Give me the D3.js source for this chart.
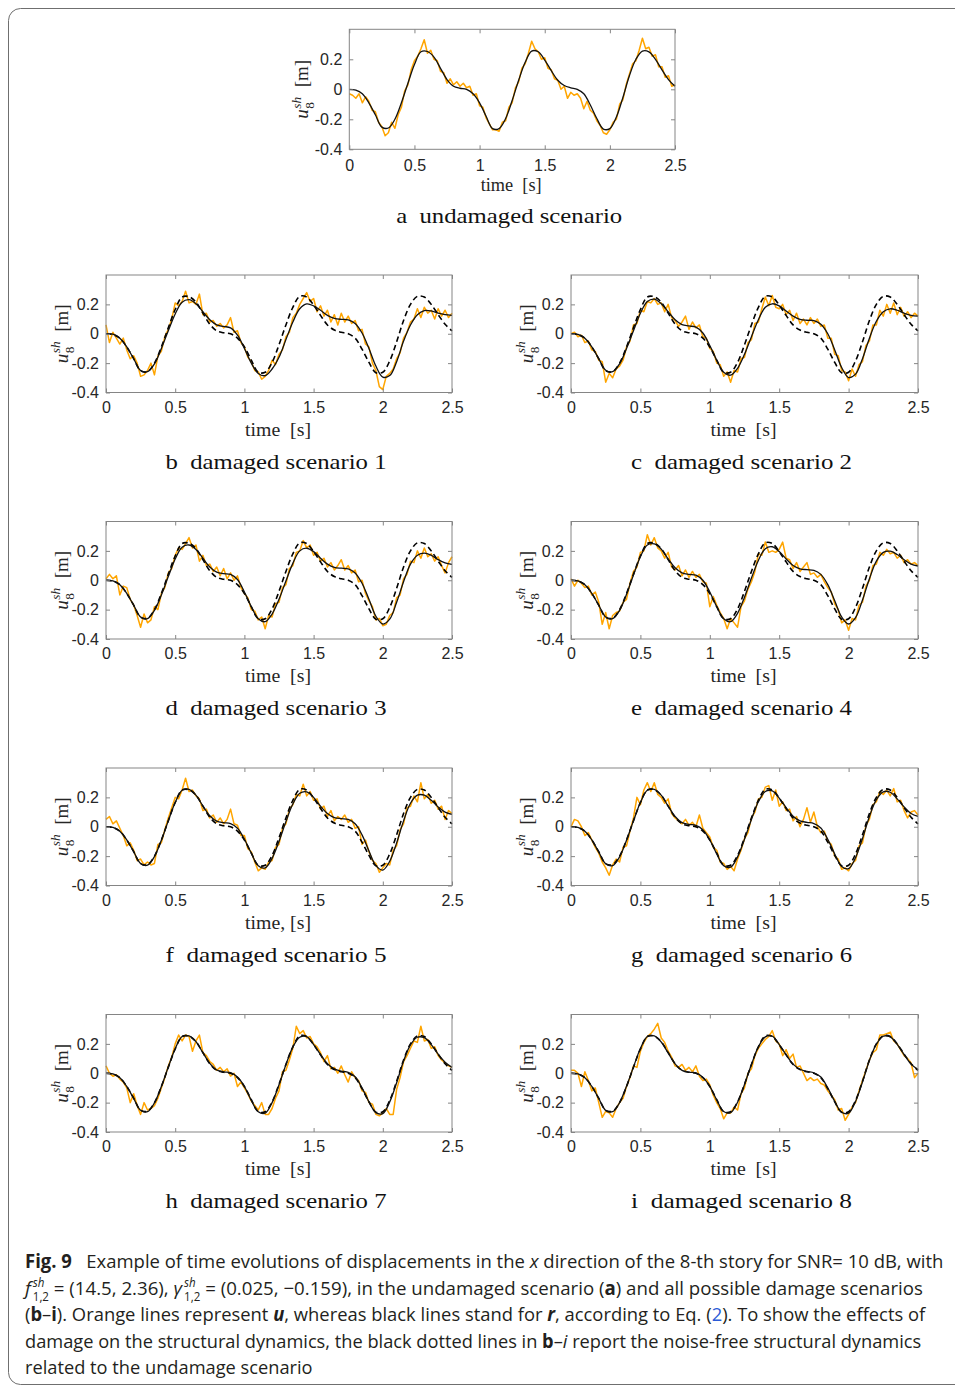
<!DOCTYPE html>
<html>
<head>
<meta charset="utf-8">
<script src="https://cdn.jsdelivr.net/npm/d3@7"></script>
<style>
  body { margin: 0; background: #fff; }
  svg text { white-space: pre; }
</style>
</head>
<body>
<svg id="fig" width="955" height="1388"></svg>
<script>
// sampling steps of the two kinds of series (seconds)
const dtFilt = 0.05;
const dtNoisy = 0.025;

const xTicks = [0, 0.5, 1, 1.5, 2, 2.5];
const xTickLabels = ["0", "0.5", "1", "1.5", "2", "2.5"];
const yTicks = [-0.4, -0.2, 0, 0.2];
const yTickLabels = ["-0.4", "-0.2", "0", "0.2"];

// noise-free undamaged response (black in a, dashed in b-i)
const refUndamaged = [0.000,-0.005,-0.030,-0.090,-0.170,-0.252,-0.258,-0.200,-0.090,0.040,
  0.165,0.250,0.252,0.215,0.140,0.065,0.020,0.007,0.000,-0.030,
  -0.090,-0.180,-0.262,-0.262,-0.195,-0.075,0.060,0.180,0.255,0.250,
  0.195,0.125,0.060,0.025,0.010,0.000,-0.030,-0.105,-0.195,-0.265,
  -0.262,-0.185,-0.055,0.090,0.200,0.255,0.250,0.200,0.130,0.065,
  0.020];

// black lines r, damaged scenarios 1..8
const filtB = [0.000,-0.003,-0.030,-0.090,-0.170,-0.250,-0.258,-0.205,-0.100,0.020,
  0.135,0.215,0.232,0.205,0.150,0.095,0.060,0.050,0.040,-0.010,
  -0.100,-0.200,-0.270,-0.285,-0.240,-0.160,-0.040,0.080,0.170,0.203,
  0.190,0.160,0.125,0.105,0.098,0.095,0.070,0.005,-0.100,-0.220,
  -0.295,-0.285,-0.190,-0.050,0.060,0.130,0.158,0.155,0.140,0.130,
  0.125];
const filtC = [0.000,-0.005,-0.030,-0.090,-0.170,-0.248,-0.258,-0.205,-0.100,0.020,
  0.140,0.220,0.236,0.205,0.150,0.095,0.062,0.053,0.045,0.005,
  -0.080,-0.180,-0.262,-0.282,-0.235,-0.140,-0.020,0.095,0.180,0.204,
  0.190,0.155,0.120,0.098,0.092,0.090,0.065,0.000,-0.110,-0.230,
  -0.298,-0.275,-0.170,-0.030,0.085,0.150,0.170,0.160,0.140,0.125,
  0.120];
const filtD = [0.000,-0.005,-0.030,-0.090,-0.170,-0.250,-0.262,-0.205,-0.100,0.025,
  0.145,0.225,0.240,0.210,0.150,0.090,0.055,0.045,0.040,0.005,
  -0.080,-0.180,-0.262,-0.282,-0.230,-0.130,-0.005,0.115,0.200,0.218,
  0.195,0.150,0.110,0.088,0.082,0.078,0.050,-0.020,-0.130,-0.245,
  -0.298,-0.265,-0.150,-0.010,0.110,0.170,0.185,0.170,0.140,0.118,
  0.108];
const filtE = [0.000,-0.005,-0.030,-0.090,-0.170,-0.250,-0.262,-0.205,-0.095,0.035,
  0.160,0.240,0.248,0.212,0.145,0.085,0.050,0.040,0.035,0.000,
  -0.080,-0.180,-0.262,-0.282,-0.225,-0.115,0.015,0.135,0.215,0.228,
  0.195,0.145,0.100,0.078,0.072,0.068,0.040,-0.030,-0.140,-0.250,
  -0.298,-0.255,-0.135,0.010,0.130,0.190,0.198,0.175,0.140,0.110,
  0.097];
const filtF = [0.000,-0.005,-0.030,-0.090,-0.170,-0.250,-0.262,-0.203,-0.092,0.040,
  0.165,0.248,0.255,0.215,0.142,0.075,0.038,0.028,0.022,-0.010,
  -0.085,-0.180,-0.265,-0.280,-0.215,-0.100,0.035,0.155,0.228,0.238,
  0.200,0.140,0.090,0.062,0.055,0.050,0.020,-0.055,-0.165,-0.265,
  -0.295,-0.235,-0.110,0.040,0.160,0.215,0.215,0.180,0.135,0.100,
  0.085];
const filtG = [0.000,-0.005,-0.030,-0.090,-0.172,-0.252,-0.265,-0.205,-0.092,0.040,
  0.165,0.248,0.255,0.215,0.140,0.070,0.028,0.016,0.010,-0.020,
  -0.090,-0.185,-0.265,-0.275,-0.205,-0.085,0.050,0.170,0.240,0.245,
  0.195,0.130,0.072,0.040,0.030,0.022,-0.008,-0.085,-0.185,-0.270,
  -0.285,-0.210,-0.080,0.070,0.185,0.238,0.235,0.190,0.135,0.090,
  0.070];
const filtH = [0.000,-0.005,-0.030,-0.090,-0.172,-0.252,-0.262,-0.202,-0.090,0.042,
  0.167,0.250,0.255,0.215,0.140,0.067,0.022,0.010,0.004,-0.026,
  -0.090,-0.185,-0.262,-0.272,-0.200,-0.078,0.058,0.178,0.245,0.250,
  0.195,0.128,0.065,0.030,0.015,0.006,-0.024,-0.100,-0.195,-0.268,
  -0.275,-0.195,-0.065,0.083,0.193,0.245,0.242,0.195,0.130,0.075,
  0.040];
const filtI = [0.000,-0.005,-0.030,-0.090,-0.172,-0.253,-0.262,-0.200,-0.088,0.043,
  0.168,0.250,0.255,0.213,0.138,0.064,0.020,0.008,0.002,-0.028,
  -0.090,-0.182,-0.260,-0.268,-0.197,-0.076,0.060,0.180,0.248,0.253,
  0.195,0.126,0.062,0.027,0.012,0.003,-0.026,-0.100,-0.192,-0.265,
  -0.272,-0.192,-0.060,0.087,0.198,0.252,0.248,0.197,0.127,0.062,
  0.025];

// orange lines u (noisy, SNR 10 dB)
const noisyA = [-0.03,-0.04,-0.06,-0.03,-0.09,-0.05,-0.08,-0.14,-0.15,-0.22,
  -0.25,-0.31,-0.29,-0.22,-0.26,-0.17,-0.12,-0.01,0.03,0.13,
  0.19,0.22,0.27,0.33,0.24,0.26,0.20,0.19,0.12,0.11,
  0.04,0.07,0.03,0.05,0.02,0.04,0.01,0.02,-0.04,-0.03,
  -0.11,-0.12,-0.19,-0.23,-0.27,-0.27,-0.28,-0.22,-0.21,-0.12,
  -0.09,0.01,0.05,0.14,0.17,0.24,0.32,0.27,0.25,0.20,
  0.21,0.14,0.13,0.07,0.06,0.00,0.02,-0.06,-0.02,-0.04,
  -0.03,-0.06,-0.13,-0.08,-0.14,-0.16,-0.21,-0.24,-0.29,-0.30,
  -0.27,-0.22,-0.20,-0.10,-0.07,0.03,0.10,0.17,0.19,0.26,
  0.34,0.27,0.28,0.22,0.23,0.15,0.15,0.08,0.09,0.02,
  0.03];
const noisyB = [0.06,-0.06,0.01,-0.03,-0.07,-0.03,-0.11,-0.17,-0.15,-0.20,
  -0.29,-0.28,-0.25,-0.20,-0.28,-0.15,-0.12,-0.02,0.03,0.10,
  0.21,0.19,0.22,0.29,0.21,0.22,0.20,0.27,0.13,0.14,
  0.08,0.09,0.05,0.07,0.04,0.06,0.11,0.01,0.02,-0.06,
  -0.09,-0.16,-0.19,-0.25,-0.26,-0.31,-0.29,-0.25,-0.18,-0.21,
  -0.14,-0.11,-0.02,0.01,0.11,0.14,0.20,0.24,0.28,0.22,
  0.24,0.15,0.19,0.12,0.16,0.08,0.13,0.06,0.14,0.08,
  0.12,0.07,0.09,0.02,0.03,-0.07,-0.09,-0.20,-0.25,-0.36,
  -0.38,-0.29,-0.27,-0.24,-0.17,-0.13,-0.03,0.01,0.08,0.10,
  0.17,0.11,0.18,0.14,0.16,0.10,0.17,0.12,0.16,0.11,
  0.14];
const noisyC = [0.00,0.01,-0.02,-0.01,-0.06,-0.05,-0.11,-0.12,-0.18,-0.19,
  -0.33,-0.27,-0.30,-0.24,-0.22,-0.18,-0.09,-0.05,0.06,0.07,
  0.16,0.15,0.22,0.21,0.24,0.20,0.21,0.15,0.20,0.11,
  0.09,0.05,0.08,0.12,0.03,0.08,0.04,0.06,-0.02,-0.03,
  -0.10,-0.12,-0.20,-0.21,-0.29,-0.26,-0.33,-0.25,-0.26,-0.17,
  -0.16,-0.06,-0.04,0.07,0.08,0.17,0.25,0.19,0.26,0.18,
  0.17,0.20,0.13,0.16,0.09,0.14,0.07,0.10,0.06,0.11,
  0.07,0.10,0.05,0.06,-0.03,-0.03,-0.14,-0.15,-0.25,-0.26,
  -0.32,-0.24,-0.29,-0.21,-0.19,-0.08,-0.05,0.06,0.06,0.16,
  0.12,0.20,0.14,0.21,0.13,0.18,0.12,0.15,0.11,0.14,
  0.12];
const noisyD = [0.01,0.04,0.01,0.03,-0.10,-0.04,-0.05,-0.13,-0.17,-0.24,
  -0.32,-0.23,-0.29,-0.27,-0.18,-0.20,-0.09,-0.05,0.05,0.08,
  0.17,0.22,0.21,0.25,0.29,0.22,0.24,0.13,0.17,0.10,
  0.11,0.06,0.09,0.03,0.08,0.01,0.05,0.00,0.03,-0.05,
  -0.09,-0.12,-0.20,-0.21,-0.27,-0.25,-0.33,-0.24,-0.25,-0.16,
  -0.15,-0.05,-0.03,0.08,0.10,0.19,0.20,0.27,0.22,0.24,
  0.17,0.19,0.13,0.15,0.09,0.12,0.07,0.10,0.14,0.07,
  0.10,0.05,0.07,-0.01,0.00,-0.09,-0.14,-0.18,-0.27,-0.26,
  -0.31,-0.30,-0.24,-0.22,-0.12,-0.10,0.01,0.04,0.13,0.12,
  0.20,0.15,0.22,0.16,0.18,0.13,0.16,0.10,0.05,0.12,
  0.16];
const noisyE = [0.01,-0.04,0.00,-0.02,-0.05,-0.04,-0.10,-0.08,-0.15,-0.30,
  -0.22,-0.33,-0.24,-0.22,-0.21,-0.15,-0.13,-0.02,0.06,0.09,
  0.19,0.20,0.31,0.24,0.29,0.22,0.20,0.15,0.19,0.09,
  0.07,0.10,0.03,0.07,0.02,0.06,0.02,0.04,-0.01,-0.02,
  -0.18,-0.11,-0.17,-0.22,-0.26,-0.33,-0.26,-0.29,-0.32,-0.18,
  -0.14,-0.06,-0.01,0.06,0.18,0.17,0.26,0.19,0.20,0.19,
  0.21,0.26,0.15,0.14,0.08,0.12,0.06,0.09,0.12,0.04,
  0.05,0.02,0.04,-0.01,-0.05,-0.08,-0.16,-0.20,-0.29,-0.27,
  -0.34,-0.26,-0.27,-0.17,-0.15,-0.04,0.00,0.10,0.11,0.19,
  0.17,0.21,0.18,0.19,0.15,0.17,0.12,0.14,0.11,0.12,
  0.10];
const noisyF = [0.05,0.07,0.02,0.04,-0.01,-0.06,-0.13,-0.11,-0.16,-0.23,
  -0.22,-0.26,-0.24,-0.26,-0.25,-0.12,-0.11,-0.02,0.06,0.13,
  0.20,0.19,0.25,0.33,0.24,0.25,0.21,0.19,0.11,0.12,
  0.06,0.08,0.03,0.06,0.02,0.05,0.12,0.02,0.01,-0.06,
  -0.06,-0.15,-0.17,-0.24,-0.30,-0.28,-0.29,-0.24,-0.23,-0.14,
  -0.12,-0.01,0.02,0.12,0.15,0.22,0.21,0.29,0.21,0.24,
  0.18,0.19,0.12,0.14,0.07,0.11,0.04,0.07,0.05,0.08,
  0.03,0.05,-0.01,0.00,-0.12,-0.09,-0.17,-0.23,-0.25,-0.31,
  -0.28,-0.25,-0.26,-0.16,-0.13,-0.02,0.02,0.13,0.14,0.21,
  0.17,0.30,0.19,0.22,0.16,0.18,0.12,0.14,0.05,0.11,
  0.09];
const noisyG = [0.00,0.05,0.04,0.00,-0.06,-0.04,-0.09,-0.14,-0.18,-0.24,
  -0.28,-0.33,-0.26,-0.22,-0.24,-0.14,-0.13,-0.03,0.06,0.20,
  0.15,0.25,0.30,0.24,0.30,0.22,0.20,0.16,0.19,0.09,
  0.06,0.04,0.02,0.05,0.01,0.03,0.00,0.08,-0.01,-0.04,
  -0.07,-0.14,-0.16,-0.24,-0.25,-0.29,-0.27,-0.30,-0.22,-0.16,
  -0.08,-0.04,0.06,0.10,0.19,0.20,0.27,0.28,0.18,0.25,
  0.14,0.17,0.11,0.12,0.04,0.07,0.00,0.05,0.13,0.03,
  0.10,0.00,-0.04,-0.03,-0.10,-0.12,-0.20,-0.22,-0.29,-0.28,
  -0.30,-0.25,-0.23,-0.13,-0.11,0.01,0.05,0.15,0.17,0.24,
  0.22,0.25,0.21,0.26,0.17,0.18,0.11,0.06,0.10,0.11,
  0.08];
const noisyH = [0.05,0.00,-0.02,-0.01,-0.04,-0.06,-0.10,-0.20,-0.14,-0.22,
  -0.28,-0.20,-0.25,-0.24,-0.22,-0.17,-0.10,-0.03,0.05,0.11,
  0.20,0.26,0.22,0.26,0.25,0.15,0.22,0.26,0.14,0.12,
  0.08,0.06,0.02,0.04,0.01,0.03,-0.02,0.00,-0.09,-0.06,
  -0.10,-0.14,-0.19,-0.22,-0.25,-0.20,-0.28,-0.28,-0.24,-0.17,
  -0.12,0.01,0.02,0.09,0.17,0.32,0.27,0.29,0.24,0.25,
  0.20,0.18,0.14,0.08,0.12,0.03,0.04,0.00,0.05,-0.01,
  -0.06,0.01,-0.03,-0.05,-0.12,-0.13,-0.20,-0.21,-0.28,-0.29,
  -0.27,-0.24,-0.28,-0.28,-0.11,-0.03,0.08,0.12,0.17,0.22,
  0.21,0.32,0.22,0.23,0.17,0.18,0.12,0.09,0.07,0.05,
  0.04];
const noisyI = [0.02,0.02,0.00,-0.09,0.01,-0.05,-0.12,-0.10,-0.20,-0.30,
  -0.26,-0.27,-0.30,-0.24,-0.20,-0.17,-0.09,-0.03,0.05,0.04,
  0.15,0.21,0.25,0.27,0.30,0.34,0.24,0.21,0.15,0.11,
  0.05,0.04,0.06,0.02,0.04,0.01,0.05,-0.02,-0.05,-0.04,
  -0.08,-0.15,-0.20,-0.24,-0.31,-0.27,-0.27,-0.23,-0.25,-0.14,
  -0.10,0.00,0.03,0.12,0.17,0.20,0.23,0.25,0.29,0.22,
  0.20,0.12,0.16,0.10,0.13,0.04,0.05,0.00,-0.05,-0.03,
  -0.05,-0.04,-0.07,-0.08,-0.12,-0.15,-0.18,-0.25,-0.24,-0.32,
  -0.28,-0.23,-0.20,-0.12,-0.05,0.02,0.09,0.14,0.16,0.26,
  0.26,0.27,0.28,0.22,0.20,0.16,0.12,0.10,0.07,-0.03,
  0.00];

const panels = [
  { tag: "a", name: "undamaged scenario", xlab: "time  [s]", noisy: noisyA, filt: refUndamaged, ref: null },
  { tag: "b", name: "damaged scenario 1", xlab: "time  [s]", noisy: noisyB, filt: filtB, ref: refUndamaged },
  { tag: "c", name: "damaged scenario 2", xlab: "time  [s]", noisy: noisyC, filt: filtC, ref: refUndamaged },
  { tag: "d", name: "damaged scenario 3", xlab: "time  [s]", noisy: noisyD, filt: filtD, ref: refUndamaged },
  { tag: "e", name: "damaged scenario 4", xlab: "time  [s]", noisy: noisyE, filt: filtE, ref: refUndamaged },
  { tag: "f", name: "damaged scenario 5", xlab: "time, [s]", noisy: noisyF, filt: filtF, ref: refUndamaged },
  { tag: "g", name: "damaged scenario 6", xlab: "time  [s]", noisy: noisyG, filt: filtG, ref: refUndamaged },
  { tag: "h", name: "damaged scenario 7", xlab: "time  [s]", noisy: noisyH, filt: filtH, ref: refUndamaged },
  { tag: "i", name: "damaged scenario 8", xlab: "time  [s]", noisy: noisyI, filt: filtI, ref: refUndamaged }
];

// plot boxes in page pixels
const cols = [{ left: 106, right: 452 }, { left: 571, right: 918 }];
const rows = [{ top: 275, bottom: 392.5 }, { top: 521.5, bottom: 639 }, { top: 768, bottom: 885.5 }, { top: 1014.5, bottom: 1132 }];
const boxes = [{ left: 349.3, right: 675, top: 29.3, bottom: 149.3, ylab: 41, capW: 226, xlabW: 61, tickPad: 10, xlabY: 42, capY: 74 }];
rows.forEach(r => cols.forEach(c => boxes.push({
  left: c.left, right: c.right, top: r.top, bottom: r.bottom,
  ylab: 38, capW: 221, xlabW: 66, tickPad: 9, xlabY: 43, capY: 76
})));

const SERIF = "'Liberation Serif', 'DejaVu Serif', serif";
const SANS = "'Liberation Sans', Arial, sans-serif";
const AXIS_GREY = "#858585";

const svg = d3.select("#fig");

// outer frame of the figure
svg.append("rect")
  .attr("x", 8.5).attr("y", 8.5).attr("width", 980).attr("height", 1376)
  .attr("rx", 12).attr("fill", "none").attr("stroke", "#6f6f6f").attr("stroke-width", 1);

// text with italic/bold runs and stacked super/subscripts
function rich(parent, segs, o) {
  const t = parent.append("text")
    .attr("font-family", o.font).attr("font-size", o.size)
    .attr("fill", o.color).attr("text-anchor", o.anchor || "start");
  let shift = 0, pend = 0;
  const ss = o.size * (o.scriptScale || 0.7);
  segs.forEach(s => {
    if (s.stack) {
      const up = -o.size * (o.supUp || 0.4), dn = o.size * (o.subDn || 0.3);
      const a = t.append("tspan").text(s.stack[0]).attr("font-size", ss)
        .attr("dy", up - shift).attr("dx", pend + (s.gap || 0)).attr("font-style", s.supI ? "italic" : null);
      shift = up;
      const w1 = a.node().getComputedTextLength();
      const b = t.append("tspan").text(s.stack[1]).attr("font-size", ss)
        .attr("dx", -w1).attr("dy", dn - shift).attr("font-style", s.subI ? "italic" : null);
      shift = dn;
      const w2 = b.node().getComputedTextLength();
      pend = Math.max(0, w1 - w2);
    } else {
      const sp = t.append("tspan").text(s.t);
      if (shift) sp.attr("dy", -shift);
      if (pend) sp.attr("dx", pend);
      shift = 0; pend = 0;
      if (s.b) sp.attr("font-weight", "bold");
      if (s.i) sp.attr("font-style", "italic");
      if (s.c) sp.attr("fill", s.c);
    }
  });
  return t;
}

function drawPanel(p, box) {
  const x = d3.scaleLinear().domain([0, 2.5]).range([box.left, box.right]);
  const y = d3.scaleLinear().domain([-0.4, 0.4]).range([box.bottom, box.top]);
  const g = svg.append("g").attr("class", "panel-" + p.tag);

  const lineFilt = d3.line().x((d, i) => x(i * dtFilt)).y(d => y(d)).curve(d3.curveCatmullRom.alpha(0.5));
  const lineNoisy = d3.line().x((d, i) => x(i * dtNoisy)).y(d => y(d));

  g.append("path").datum(p.noisy).attr("d", lineNoisy)
    .attr("fill", "none").attr("stroke", "#FFA500").attr("stroke-width", 1.5).attr("stroke-linejoin", "round");
  if (p.ref) {
    g.append("path").datum(p.ref).attr("d", lineFilt)
      .attr("fill", "none").attr("stroke", "#000").attr("stroke-width", 1.6).attr("stroke-dasharray", "5.5,3.5");
  }
  g.append("path").datum(p.filt).attr("d", lineFilt)
    .attr("fill", "none").attr("stroke", "#111").attr("stroke-width", 1.3);

  // box
  g.append("rect").attr("x", box.left).attr("y", box.top)
    .attr("width", box.right - box.left).attr("height", box.bottom - box.top)
    .attr("fill", "none").attr("stroke", AXIS_GREY).attr("stroke-width", 1);

  const style = sel => {
    sel.select(".domain").remove();
    sel.selectAll(".tick line").attr("stroke", AXIS_GREY);
    sel.selectAll(".tick text").attr("fill", "#262626").attr("font-family", SANS).attr("font-size", 16);
  };
  g.append("g").attr("transform", `translate(0,${box.bottom})`)
    .call(d3.axisBottom(x).tickValues(xTicks).tickFormat((d, i) => xTickLabels[i])
      .tickSizeInner(-4).tickSizeOuter(0).tickPadding(box.tickPad)).call(style);
  g.append("g").attr("transform", `translate(0,${box.top})`)
    .call(d3.axisTop(x).tickValues(xTicks).tickFormat("").tickSizeInner(-4).tickSizeOuter(0)).call(style);
  g.append("g").attr("transform", `translate(${box.left},0)`)
    .call(d3.axisLeft(y).tickValues(yTicks).tickFormat((d, i) => yTickLabels[i])
      .tickSizeInner(-4).tickSizeOuter(0).tickPadding(7)).call(style);
  g.append("g").attr("transform", `translate(${box.right},0)`)
    .call(d3.axisRight(y).tickValues(yTicks).tickFormat("").tickSizeInner(-4).tickSizeOuter(0)).call(style);

  const cx = (box.left + box.right) / 2;
  const cy = (box.top + box.bottom) / 2;

  // y label  u_8^sh [m]
  const yl = g.append("g").attr("transform", `translate(${box.left - box.ylab},${cy}) rotate(-90)`);
  rich(yl, [{ t: "u", i: 1 }, { stack: ["sh", "8"], supI: 1, gap: 0.5 }, { t: "  [m]" }],
    { font: SERIF, size: 19, color: "#262626", anchor: "middle" });

  // x label
  g.append("text").attr("x", cx - 1).attr("y", box.bottom + box.xlabY)
    .attr("text-anchor", "middle").attr("font-family", SERIF).attr("font-size", 19)
    .attr("fill", "#262626").attr("textLength", box.xlabW).attr("lengthAdjust", "spacingAndGlyphs")
    .text(p.xlab);

  // sub-figure caption
  g.append("text").attr("x", cx - 3).attr("y", box.bottom + box.capY)
    .attr("text-anchor", "middle").attr("font-family", SERIF).attr("font-size", 21)
    .attr("fill", "#111").attr("textLength", box.capW).attr("lengthAdjust", "spacingAndGlyphs")
    .text(p.tag + "  " + p.name);
}

panels.forEach((p, i) => drawPanel(p, boxes[i]));

// figure caption
const capLines = [
  [{ t: "Fig. 9", b: 1 }, { t: "   Example of time evolutions of displacements in the " }, { t: "x", i: 1 },
   { t: " direction of the 8-th story for SNR= 10 dB, with" }],
  [{ t: "f", i: 1 }, { stack: ["sh", "1,2"], supI: 1, gap: 2 }, { t: " = (14.5, 2.36), " }, { t: "γ", i: 1 },
   { stack: ["sh", "1,2"], supI: 1, gap: 2 }, { t: " = (0.025, −0.159), in the undamaged scenario (" }, { t: "a", b: 1 },
   { t: ") and all possible damage scenarios" }],
  [{ t: "(" }, { t: "b", b: 1 }, { t: "–" }, { t: "i", b: 1 }, { t: "). Orange lines represent " },
   { t: "u", b: 1, i: 1 }, { t: ", whereas black lines stand for " }, { t: "r", b: 1, i: 1 },
   { t: ", according to Eq. (" }, { t: "2", c: "#2a5bd7" }, { t: "). To show the effects of" }],
  [{ t: "damage on the structural dynamics, the black dotted lines in " }, { t: "b", b: 1 }, { t: "–" },
   { t: "i", i: 1 }, { t: " report the noise-free structural dynamics" }],
  [{ t: "related to the undamage scenario" }]
];
const capBase = [1268, 1294.5, 1321, 1347.5, 1374];
const capRight = [944, 926, 927, 922, 313];
const capLeft = 25;

capLines.forEach((segs, i) => {
  const lg = svg.append("g").attr("transform", `translate(${capLeft},${capBase[i]})`);
  const t = rich(lg, segs, {
    font: "'Open Sans', 'Noto Sans', sans-serif", size: 19, color: "#231f20",
    scriptScale: 0.62, supUp: 0.42, subDn: 0.36
  });
  const w = t.node().getBBox().width;
  lg.attr("transform", `translate(${capLeft},${capBase[i]}) scale(${(capRight[i] - capLeft) / w},1)`);
});
</script>
</body>
</html>
